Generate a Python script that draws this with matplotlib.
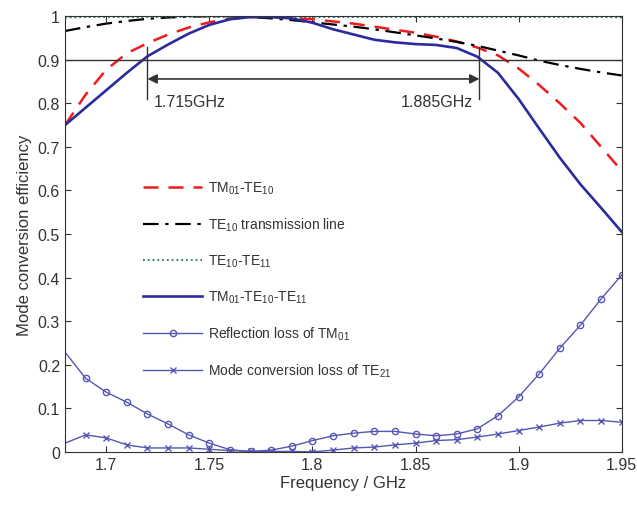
import matplotlib
matplotlib.use("Agg")
import matplotlib.pyplot as plt
import numpy as np

plt.rcParams['font.family'] = ['Liberation Sans', 'DejaVu Sans']
plt.rcParams['mathtext.fontset'] = 'custom'
plt.rcParams['mathtext.rm'] = 'Liberation Sans'
plt.rcParams['mathtext.it'] = 'Liberation Sans'
plt.rcParams['mathtext.default'] = 'rm'

freq = [1.68, 1.69, 1.70, 1.71, 1.72, 1.73, 1.74, 1.75, 1.76, 1.77, 1.78, 1.79, 1.80, 1.81,
        1.82, 1.83, 1.84, 1.85, 1.86, 1.87, 1.88, 1.89, 1.90, 1.91, 1.92, 1.93, 1.94, 1.95]

tm01_te10 = [0.750, 0.820, 0.877, 0.915, 0.938, 0.958, 0.974, 0.986, 0.994, 0.998, 0.998, 0.996,
             0.993, 0.988, 0.983, 0.976, 0.969, 0.962, 0.953, 0.942, 0.928, 0.910, 0.880, 0.842,
             0.800, 0.755, 0.700, 0.645]
te10_line = [0.966, 0.975, 0.983, 0.989, 0.994, 0.997, 0.999, 1.000, 1.000, 0.998, 0.995, 0.991,
             0.986, 0.981, 0.976, 0.970, 0.963, 0.956, 0.949, 0.941, 0.932, 0.921, 0.910, 0.898,
             0.888, 0.879, 0.871, 0.864]
te10_te11 = [0.997, 0.998, 0.998, 0.998, 0.998, 0.998, 0.998, 0.998, 0.998, 0.998, 0.998, 0.998,
             0.998, 0.998, 0.998, 0.998, 0.998, 0.998, 0.998, 0.998, 0.998, 0.998, 0.998, 0.998,
             0.998, 0.998, 0.998, 0.997]
tm01_te10_te11 = [0.750, 0.790, 0.830, 0.870, 0.908, 0.935, 0.960, 0.980, 0.993, 0.998, 0.998, 0.995,
                  0.985, 0.970, 0.958, 0.946, 0.940, 0.936, 0.934, 0.927, 0.907, 0.870, 0.810, 0.742,
                  0.675, 0.614, 0.560, 0.505]
reflection = [0.229, 0.169, 0.137, 0.114, 0.087, 0.064, 0.039, 0.020, 0.005, 0.001, 0.004, 0.013,
              0.026, 0.037, 0.043, 0.047, 0.047, 0.041, 0.037, 0.041, 0.053, 0.083, 0.126, 0.179,
              0.238, 0.291, 0.351, 0.406]
te21_loss = [0.020, 0.039, 0.032, 0.016, 0.009, 0.009, 0.009, 0.006, 0.003, 0.001, 0.001, 0.001,
             0.000, 0.004, 0.009, 0.011, 0.016, 0.020, 0.026, 0.028, 0.034, 0.041, 0.049, 0.057,
             0.066, 0.072, 0.072, 0.068]

xticks = [1.7, 1.75, 1.8, 1.85, 1.9, 1.95]
xtick_labels = ['1.7', '1.75', '1.8', '1.85', '1.9', '1.95']
yticks = [0, 0.1, 0.2, 0.3, 0.4, 0.5, 0.6, 0.7, 0.8, 0.9, 1.0]
ytick_labels = ['0', '0.1', '0.2', '0.3', '0.4', '0.5', '0.6', '0.7', '0.8', '0.9', '1']
band_edges = [1.72, 1.881]
band_labels = ['1.715GHz', '1.885GHz']

fig = plt.figure(figsize=(6.37, 5.06), dpi=100)
ax = fig.add_axes([0.102, 0.105, 0.874, 0.861])

c_dark = '#2b2b9e'
c_light = '#5656b4'

ax.plot(freq, tm01_te10, '--', color='#ee1c1c', lw=1.8, dashes=(6, 4), label='TM$_{01}$-TE$_{10}$')
ax.plot(freq, te10_line, '-.', color='black', lw=1.6, dashes=(7, 3, 1.5, 3), label='TE$_{10}$ transmission line')
ax.plot(freq, te10_te11, ':', color='#1f7a4a', lw=1.3, label='TE$_{10}$-TE$_{11}$')
ax.plot(freq, tm01_te10_te11, '-', color=c_dark, lw=1.9, label='TM$_{01}$-TE$_{10}$-TE$_{11}$')
ax.plot(freq[1:], reflection[1:], '-', color=c_light, lw=1.0, marker='o', ms=4.5,
        mfc='none', mec=c_light, mew=1.0, label='Reflection loss of TM$_{01}$')
ax.plot(freq[:2], reflection[:2], '-', color=c_light, lw=1.0)
ax.plot(freq[1:], te21_loss[1:], '-', color=c_light, lw=1.0, marker='x', ms=4.5,
        mec=c_light, mew=1.0, label='Mode conversion loss of TE$_{21}$')
ax.plot(freq[:2], te21_loss[:2], '-', color=c_light, lw=1.0)

# 0.9 reference line and bandwidth annotation
ax.axhline(0.9, color='#333333', lw=1.0)
for xe in band_edges:
    ax.plot([xe, xe], [0.81, 0.93], color='#333333', lw=1.0)
ax.annotate('', xy=(band_edges[0], 0.856), xytext=(band_edges[1], 0.856),
            arrowprops=dict(arrowstyle='<|-|>', color='#333333', lw=1.2,
                            mutation_scale=14, shrinkA=0, shrinkB=0))
ax.text(band_edges[0] + 0.003, 0.805, band_labels[0], fontsize=11.5, color='#333333',
        ha='left', va='center')
ax.text(band_edges[1] - 0.003, 0.805, band_labels[1], fontsize=11.5, color='#333333',
        ha='right', va='center')

ax.set_xlim(1.68, 1.95)
ax.set_ylim(0, 1)
ax.set_xticks(xticks)
ax.set_xticklabels(xtick_labels)
ax.set_yticks(yticks)
ax.set_yticklabels(ytick_labels)
ax.tick_params(direction='in', top=True, right=True, labelsize=11.5, colors='#333333',
               length=4)
for s in ax.spines.values():
    s.set_color('#333333')
ax.set_xlabel('Frequency / GHz', fontsize=12, color='#333333', labelpad=2)
ax.set_ylabel('Mode conversion efficiency', fontsize=12, color='#333333', labelpad=4)

leg = ax.legend(loc='upper left', bbox_to_anchor=(0.131, 0.638), frameon=False,
                fontsize=10, handlelength=4.2, labelspacing=1.42, handletextpad=0.45,
                borderaxespad=0)
for t in leg.get_texts():
    t.set_color('#333333')

fig.savefig('out.png', dpi=100)
